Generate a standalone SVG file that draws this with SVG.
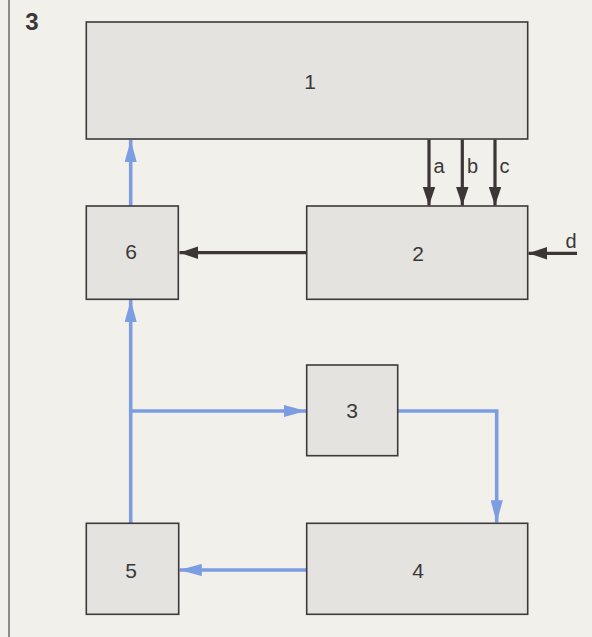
<svg xmlns="http://www.w3.org/2000/svg" width="592" height="637" viewBox="0 0 592 637">
  <defs>
    <style>
      .box { fill: #e4e3df; stroke: #3c3a3a; stroke-width: 1.6; }
      .lbl { font-family: "Liberation Sans", Arial, sans-serif; font-size: 21px; fill: #3a3838; text-anchor: middle; dominant-baseline: central; }
      .small { font-family: "Liberation Sans", Arial, sans-serif; font-size: 20px; fill: #3a3838; }
      .blk { stroke: #3d3636; stroke-width: 3.2; fill: none; }
      .blu { stroke: #7d9de2; stroke-width: 3.6; fill: none; }
    </style>
    <marker id="ahK" viewBox="0 0 10 10" refX="10" refY="5" markerWidth="5.8" markerHeight="3.9" markerUnits="strokeWidth" orient="auto" preserveAspectRatio="none">
      <path d="M0,0 L10,5 L0,10 Z" fill="#3d3636"/>
    </marker>
    <marker id="ahB" viewBox="0 0 10 10" refX="10" refY="5" markerWidth="6.2" markerHeight="3.4" markerUnits="strokeWidth" orient="auto" preserveAspectRatio="none">
      <path d="M0,0 L10,5 L0,10 Z" fill="#7d9de2"/>
    </marker>
  </defs>
  <rect x="0" y="0" width="592" height="637" fill="#f1f0ea"/>
  <line x1="9" y1="0" x2="9" y2="637" stroke="#4a4848" stroke-width="1.2"/>
  <text x="32" y="30" font-family="Liberation Sans, Arial, sans-serif" font-size="24" font-weight="bold" fill="#3a3838" text-anchor="middle">3</text>

  <g id="connectors">
    <line class="blu" x1="130.7" y1="206" x2="130.7" y2="140" marker-end="url(#ahB)"/>
    <line class="blk" x1="306.7" y1="252.7" x2="179.5" y2="252.7" marker-end="url(#ahK)"/>
    <line class="blk" x1="429" y1="139.5" x2="429" y2="205.5" marker-end="url(#ahK)"/>
    <line class="blk" x1="462.3" y1="139.5" x2="462.3" y2="205.5" marker-end="url(#ahK)"/>
    <line class="blk" x1="495" y1="139.5" x2="495" y2="205.5" marker-end="url(#ahK)"/>
    <line class="blk" x1="577" y1="253.3" x2="528.5" y2="253.3" marker-end="url(#ahK)"/>
    <line class="blu" x1="130.7" y1="523" x2="130.7" y2="300" marker-end="url(#ahB)"/>
    <line class="blu" x1="130.7" y1="411" x2="306" y2="411" marker-end="url(#ahB)"/>
    <polyline class="blu" points="397.7,411 496.7,411 496.7,522.5" marker-end="url(#ahB)"/>
    <line class="blu" x1="306.7" y1="570" x2="179.5" y2="570" marker-end="url(#ahB)"/>
    <text class="small" x="433.5" y="172.5">a</text>
    <text class="small" x="467" y="172.5">b</text>
    <text class="small" x="499.5" y="172.5">c</text>
    <text class="small" x="565.5" y="248">d</text>
  </g>

  <g id="node1"><rect class="box" x="86.3" y="22" width="441.4" height="117"/><text class="lbl" x="310" y="81">1</text></g>
  <g id="node2"><rect class="box" x="306.7" y="206" width="221" height="93.3"/><text class="lbl" x="418" y="253">2</text></g>
  <g id="node3"><rect class="box" x="306.7" y="365" width="91" height="90.7"/><text class="lbl" x="352" y="410.7">3</text></g>
  <g id="node4"><rect class="box" x="306.7" y="523.3" width="221" height="91"/><text class="lbl" x="418" y="570">4</text></g>
  <g id="node5"><rect class="box" x="86.3" y="523.3" width="92.4" height="91"/><text class="lbl" x="131" y="570">5</text></g>
  <g id="node6"><rect class="box" x="86.3" y="206" width="92" height="93.3"/><text class="lbl" x="131" y="251">6</text></g>
</svg>
